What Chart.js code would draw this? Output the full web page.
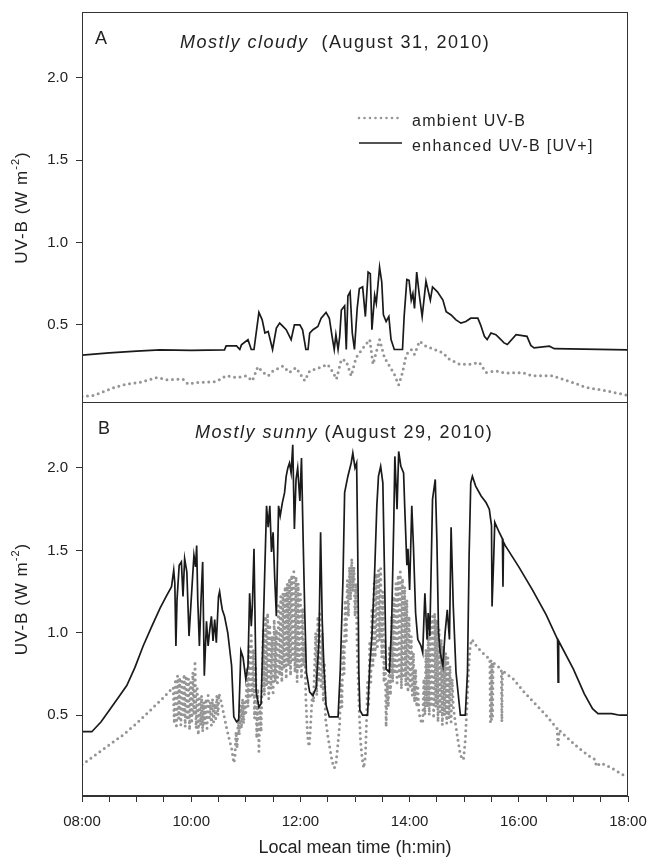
<!DOCTYPE html>
<html>
<head>
<meta charset="utf-8">
<script src="https://cdn.jsdelivr.net/npm/chart.js@4.4.1/dist/chart.umd.min.js"></script>
<style>
  html, body { margin: 0; padding: 0; background: #fff; }
  #wrap { position: relative; width: 654px; height: 862px; overflow: hidden; }
  #chart-a { position: absolute; left: 0; top: 0; }
  #chart-b { position: absolute; left: 0; top: 402px; }
</style>
</head>
<body>
<div id="wrap">
  <canvas id="chart-a" width="654" height="404"></canvas>
  <canvas id="chart-b" width="654" height="460"></canvas>
</div>
<script>
// labels
const seriesLabels = ['ambient UV-B', 'enhanced UV-B [UV+]'];
const xTickHours = [8, 10, 12, 14, 16, 18];
const xTickLabels = ['08:00', '10:00', '12:00', '14:00', '16:00', '18:00'];
const yTickValues = [0.5, 1.0, 1.5, 2.0];
const xTitle = 'Local mean time (h:min)';

// panel A - mostly cloudy, [hour, W m-2]
const enhancedA = [
  [8.00,0.316],[8.50,0.33],[9.00,0.34],[9.43,0.348],[10.00,0.345],[10.61,0.348],[10.64,0.372],[10.83,0.372],
  [10.89,0.35],[10.92,0.378],[11.04,0.41],[11.10,0.35],[11.15,0.35],[11.24,0.575],[11.30,0.53],[11.35,0.45],
  [11.41,0.46],[11.49,0.35],[11.56,0.48],[11.62,0.51],[11.68,0.49],[11.74,0.47],[11.83,0.41],[11.89,0.50],
  [11.99,0.50],[12.04,0.47],[12.10,0.35],[12.14,0.35],[12.17,0.45],[12.23,0.47],[12.32,0.49],[12.38,0.54],
  [12.47,0.575],[12.53,0.54],[12.58,0.43],[12.62,0.35],[12.65,0.44],[12.69,0.35],[12.72,0.43],[12.75,0.59],
  [12.81,0.615],[12.84,0.35],[12.87,0.675],[12.91,0.70],[12.95,0.45],[12.99,0.35],[13.04,0.60],[13.08,0.72],
  [13.14,0.73],[13.19,0.55],[13.24,0.82],[13.28,0.81],[13.31,0.47],[13.36,0.68],[13.39,0.63],[13.45,0.85],
  [13.49,0.76],[13.52,0.56],[13.57,0.52],[13.62,0.55],[13.66,0.41],[13.72,0.35],[13.87,0.35],[13.90,0.55],
  [13.95,0.775],[13.99,0.77],[14.03,0.65],[14.06,0.69],[14.09,0.60],[14.13,0.82],[14.18,0.675],[14.23,0.55],
  [14.30,0.765],[14.38,0.65],[14.42,0.73],[14.51,0.70],[14.61,0.65],[14.67,0.58],[14.76,0.56],[14.85,0.53],
  [14.94,0.51],[15.03,0.52],[15.12,0.54],[15.25,0.54],[15.30,0.50],[15.37,0.43],[15.42,0.41],[15.49,0.45],
  [15.58,0.44],[15.64,0.42],[15.73,0.39],[15.79,0.38],[15.95,0.44],[16.15,0.43],[16.22,0.375],[16.28,0.36],
  [16.56,0.37],[16.65,0.355],[18.00,0.348]
];
const ambientA = [
  [8.00,0.065],[8.20,0.07],[8.39,0.093],[8.60,0.12],[8.82,0.14],[9.06,0.15],[9.37,0.18],[9.55,0.166],
  [9.85,0.17],[9.94,0.14],[10.13,0.15],[10.46,0.155],[10.64,0.19],[10.83,0.18],[11.01,0.19],[11.12,0.16],
  [11.22,0.245],[11.32,0.21],[11.41,0.19],[11.50,0.22],[11.68,0.25],[11.80,0.21],[11.92,0.24],[12.08,0.16],
  [12.17,0.22],[12.35,0.24],[12.50,0.26],[12.60,0.21],[12.66,0.17],[12.75,0.29],[12.84,0.28],[12.93,0.19],
  [13.02,0.30],[13.15,0.36],[13.27,0.41],[13.33,0.26],[13.45,0.41],[13.54,0.30],[13.63,0.25],[13.72,0.20],
  [13.80,0.135],[13.87,0.21],[13.94,0.32],[14.03,0.35],[14.09,0.32],[14.18,0.40],[14.30,0.37],[14.45,0.35],
  [14.61,0.33],[14.73,0.29],[14.92,0.26],[15.10,0.26],[15.28,0.27],[15.40,0.21],[15.58,0.22],[15.76,0.207],
  [16.07,0.21],[16.25,0.19],[16.62,0.19],[16.98,0.15],[17.23,0.12],[17.59,0.10],[17.96,0.074],[18.00,0.07]
];

// panel B - mostly sunny
const enhancedB = [
  [8.00,0.40],[8.18,0.40],[8.35,0.46],[8.51,0.535],[8.65,0.60],[8.82,0.68],[8.97,0.79],[9.12,0.92],[9.28,1.04],
  [9.43,1.15],[9.54,1.22],[9.64,1.28],[9.68,1.38],[9.70,1.30],
  [9.72,0.92],[9.74,1.20],[9.78,1.41],[9.82,1.43],[9.85,1.22],[9.88,1.45],[9.92,1.37],[9.96,0.98],[10.00,1.20],
  [10.05,1.47],[10.08,1.40],[10.10,1.53],[10.12,1.20],[10.15,0.92],[10.18,1.20],[10.21,1.43],[10.24,0.74],
  [10.28,1.07],[10.31,0.92],[10.34,1.02],[10.37,1.10],[10.40,0.95],[10.43,1.08],[10.46,0.94],[10.50,1.22],
  [10.52,1.25],[10.55,1.18],[10.57,1.14],[10.61,1.10],[10.67,1.00],[10.74,0.80],[10.78,0.49],[10.83,0.46],
  [10.87,0.47],[10.91,0.89],[10.95,0.85],[11.00,0.72],[11.04,0.80],[11.07,1.24],[11.10,1.04],[11.12,1.16],
  [11.15,1.51],[11.19,0.64],[11.24,0.55],[11.28,0.57],[11.32,1.04],[11.38,1.77],[11.41,1.64],[11.44,1.77],
  [11.47,1.49],[11.50,1.61],[11.53,1.33],[11.56,1.10],[11.60,1.77],[11.63,1.71],[11.67,1.79],[11.71,1.85],
  [11.74,1.95],[11.77,2.00],[11.80,2.03],[11.83,1.97],[11.86,2.14],[11.89,1.63],[11.92,1.93],[11.95,2.00],
  [11.99,1.80],[12.02,2.06],[12.05,1.57],[12.08,1.12],[12.11,0.76],[12.17,0.64],[12.23,0.62],[12.29,0.67],
  [12.34,0.95],[12.37,1.61],[12.40,1.07],[12.43,0.80],[12.47,0.56],[12.53,0.49],[12.69,0.49],[12.73,0.77],
  [12.78,1.33],[12.81,1.85],[12.87,1.95],[12.93,2.03],[12.96,2.09],[13.00,2.00],[13.03,2.03],[13.05,1.50],
  [13.07,0.76],[13.09,0.53],[13.14,0.50],[13.23,0.50],[13.27,0.80],[13.31,0.98],[13.36,1.37],[13.40,1.77],
  [13.43,1.95],[13.47,2.01],[13.51,1.91],[13.54,1.37],[13.57,0.78],[13.63,0.76],[13.67,1.04],[13.71,1.67],
  [13.73,2.07],[13.77,1.75],[13.80,2.10],[13.84,2.01],[13.89,1.97],[13.91,1.77],[13.95,1.41],[13.97,1.51],
  [14.00,1.26],[14.04,1.77],[14.07,1.53],[14.11,1.12],[14.15,0.96],[14.21,0.92],[14.24,0.88],[14.28,1.24],
  [14.32,0.96],[14.34,1.12],[14.37,0.98],[14.42,1.81],[14.47,1.93],[14.50,1.56],[14.53,1.00],[14.56,0.88],
  [14.61,0.80],[14.65,1.00],[14.69,1.14],[14.73,0.96],[14.76,1.64],[14.80,1.16],[14.85,0.76],[14.93,0.50],
  [15.02,0.50],[15.06,0.76],[15.09,1.47],[15.12,1.91],[15.15,1.95],[15.21,1.89],[15.31,1.83],[15.40,1.79],
  [15.46,1.75],[15.50,1.65],[15.51,1.16],[15.54,1.45],[15.56,1.67],[15.64,1.61],[15.70,1.57],[15.71,1.28],
  [15.72,1.55],[15.75,1.53],[16.00,1.40],[16.25,1.26],[16.50,1.11],[16.71,0.96],[16.72,0.70],[16.73,0.95],
  [17.00,0.78],[17.20,0.63],[17.35,0.54],[17.45,0.51],[17.70,0.51],[17.85,0.50],[18.00,0.50]
];
const ambientB = [
  [8.00,0.20],[8.25,0.26],[8.50,0.32],[8.75,0.38],[9.00,0.45],[9.25,0.53],[9.50,0.61],[9.67,0.67],
  [9.69,0.45],[9.71,0.72],[9.73,0.42],[9.75,0.74],[9.77,0.48],[9.79,0.73],[9.81,0.44],[9.83,0.72],[9.85,0.50],
  [9.87,0.75],[9.89,0.43],[9.91,0.74],[9.93,0.47],[9.95,0.72],[9.97,0.41],[9.99,0.70],[10.01,0.45],[10.03,0.76],
  [10.05,0.50],[10.07,0.83],[10.09,0.42],[10.11,0.66],[10.13,0.38],[10.15,0.60],[10.17,0.44],[10.19,0.62],
  [10.21,0.40],[10.23,0.58],[10.25,0.45],[10.27,0.60],[10.29,0.42],[10.31,0.62],[10.33,0.47],[10.35,0.58],
  [10.37,0.44],[10.39,0.60],[10.41,0.46],[10.43,0.57],[10.45,0.48],[10.47,0.62],[10.49,0.50],[10.51,0.63],
  [10.55,0.58],[10.60,0.50],[10.65,0.42],[10.70,0.35],[10.74,0.30],[10.78,0.21],[10.80,0.24],[10.82,0.40],
  [10.84,0.30],[10.86,0.48],[10.88,0.38],[10.90,0.56],[10.92,0.42],[10.94,0.60],[10.96,0.45],[10.98,0.58],
  [11.00,0.50],[11.02,0.78],[11.04,0.55],[11.06,0.92],[11.08,0.60],[11.10,1.00],[11.12,0.62],[11.14,0.90],
  [11.16,0.48],[11.18,0.80],[11.20,0.36],[11.22,0.66],[11.24,0.28],[11.26,0.55],[11.28,0.40],
  [11.30,0.72],[11.32,1.02],[11.34,0.62],[11.36,1.10],[11.38,0.68],[11.40,1.12],[11.42,0.60],[11.44,1.05],
  [11.46,0.66],[11.48,0.98],[11.50,0.62],[11.52,1.08],[11.54,0.70],[11.56,1.02],[11.58,0.68],[11.60,1.18],
  [11.62,0.74],[11.64,1.22],[11.66,0.70],[11.68,1.24],[11.70,0.78],[11.72,1.28],[11.74,0.72],[11.76,1.30],
  [11.78,0.80],[11.80,1.33],[11.82,0.74],[11.84,1.35],[11.86,0.82],[11.88,1.37],[11.90,0.76],[11.92,1.34],
  [11.94,0.70],[11.96,1.30],[11.98,0.78],[12.00,1.25],[12.02,0.72],[12.04,1.15],
  [12.06,0.80],[12.08,0.95],[12.10,0.60],[12.12,0.45],[12.14,0.34],[12.16,0.31],[12.18,0.40],[12.20,0.52],
  [12.22,0.64],[12.24,0.58],[12.26,0.80],[12.28,1.00],[12.30,0.62],[12.32,1.10],[12.34,0.70],[12.36,1.13],
  [12.38,0.66],[12.40,1.00],[12.42,0.58],[12.44,0.82],[12.46,0.48],[12.50,0.38],[12.54,0.30],[12.58,0.22],
  [12.62,0.18],[12.65,0.20],[12.68,0.30],
  [12.72,0.45],[12.74,0.70],[12.76,0.55],[12.78,0.95],[12.80,0.75],[12.82,1.20],[12.84,0.95],[12.86,1.32],
  [12.88,1.10],[12.90,1.40],[12.92,1.20],[12.94,1.45],[12.96,1.25],[12.98,1.40],[13.00,1.10],[13.02,1.30],
  [13.04,0.90],[13.06,0.70],[13.08,0.50],[13.10,0.35],[13.13,0.24],[13.16,0.18],[13.19,0.25],
  [13.21,0.45],[13.23,0.70],[13.25,0.55],[13.27,0.95],[13.29,0.70],[13.31,1.15],[13.33,0.80],[13.35,1.30],
  [13.37,0.85],[13.39,1.36],[13.41,0.90],[13.43,1.38],[13.45,0.95],[13.47,1.39],[13.49,0.85],[13.51,1.25],
  [13.53,0.70],[13.55,0.95],[13.57,0.43],
  [13.59,0.70],[13.61,0.55],[13.63,0.92],[13.65,0.62],[13.67,1.10],[13.69,0.70],[13.71,1.22],[13.73,0.75],
  [13.75,1.30],[13.77,0.68],[13.79,1.35],[13.81,0.72],[13.83,1.37],[13.85,0.66],[13.87,1.33],[13.89,0.74],
  [13.91,1.28],[13.93,0.68],[13.95,1.20],[13.97,0.64],[13.99,1.10],[14.01,0.66],[14.03,0.98],[14.05,0.62],
  [14.07,0.88],[14.09,0.58],[14.11,0.78],[14.13,0.55],[14.15,0.68],[14.17,0.52],[14.20,0.47],[14.24,0.45],
  [14.26,0.72],[14.28,0.50],[14.30,0.90],[14.32,0.55],[14.34,1.00],[14.36,0.50],[14.38,1.08],[14.40,0.55],
  [14.42,1.10],[14.44,0.48],[14.46,1.12],[14.48,0.55],[14.50,1.08],[14.52,0.46],[14.54,1.02],[14.56,0.52],
  [14.58,0.96],[14.60,0.44],[14.62,0.92],[14.64,0.50],[14.66,0.88],[14.68,0.45],[14.70,0.85],[14.72,0.48],
  [14.74,0.80],[14.76,0.46],[14.78,0.72],[14.80,0.55],
  [14.84,0.45],[14.88,0.36],[14.92,0.28],[14.96,0.23],[14.99,0.24],[15.02,0.35],[15.05,0.55],[15.08,0.78],
  [15.11,0.92],[15.14,0.96],[15.20,0.93],[15.30,0.89],[15.40,0.86],[15.47,0.84],[15.48,0.46],[15.49,0.83],
  [15.50,0.47],[15.51,0.82],[15.52,0.48],[15.53,0.82],[15.60,0.80],[15.68,0.78],[15.69,0.46],[15.70,0.77],
  [15.90,0.72],[16.10,0.64],[16.30,0.57],[16.50,0.50],[16.70,0.42],[16.72,0.32],[16.74,0.41],[16.90,0.36],
  [17.10,0.30],[17.30,0.25],[17.40,0.23],[17.42,0.19],[17.50,0.21],[17.70,0.18],[17.90,0.14],[18.00,0.13]
];

const textColor = '#222';
const axisColor = '#333';
const enhancedColor = '#1a1a1a';
const ambientColor = '#959595';
const fontFamily = '"Liberation Sans", Arial, sans-serif';

Chart.defaults.font.family = fontFamily;
Chart.defaults.color = textColor;

const toPoints = (pairs) => pairs.map(p => ({ x: p[0], y: p[1] }));

function drawYTitle(ctx, cx, cy) {
  ctx.save();
  ctx.translate(cx, cy);
  ctx.rotate(-Math.PI / 2);
  ctx.fillStyle = textColor;
  ctx.textBaseline = 'middle';
  ctx.letterSpacing = '1px';
  const parts = [
    { t: 'UV-B (W m', f: '17px ' + fontFamily, dy: 0 },
    { t: '-2', f: '11px ' + fontFamily, dy: -6 },
    { t: ')', f: '17px ' + fontFamily, dy: 0 }
  ];
  let total = 0;
  parts.forEach(p => { ctx.font = p.f; p.w = ctx.measureText(p.t).width; total += p.w; });
  let x = -total / 2;
  parts.forEach(p => { ctx.font = p.f; ctx.fillText(p.t, x, p.dy); x += p.w; });
  ctx.restore();
}

const panelDecor = {
  id: 'panelDecor',
  afterDraw(chart, args, opts) {
    const { ctx, chartArea: a } = chart;
    ctx.save();
    ctx.strokeStyle = axisColor;
    ctx.lineWidth = 1;
    ctx.strokeRect(Math.round(a.left) + 0.5, Math.round(a.top) + 0.5,
      Math.round(a.right - a.left) - 1, Math.round(a.bottom - a.top) - 1);

    ctx.fillStyle = textColor;
    ctx.textBaseline = 'alphabetic';
    ctx.letterSpacing = '1px';
    ctx.font = '18px ' + fontFamily;
    ctx.fillText(opts.letter, opts.letterX, opts.letterY);

    ctx.letterSpacing = '1.5px';
    ctx.font = 'italic 18px ' + fontFamily;
    ctx.fillText(opts.italic, opts.titleX, opts.titleY);
    const w = ctx.measureText(opts.italic).width;
    ctx.font = '18px ' + fontFamily;
    ctx.fillText(opts.rest, opts.titleX + w, opts.titleY);

    if (opts.legend) {
      const rows = [chart.data.datasets[1], chart.data.datasets[0]];
      rows.forEach((ds, i) => {
        const y = 118 + i * 25;
        ctx.beginPath();
        ctx.strokeStyle = ds.borderColor;
        ctx.lineWidth = i === 0 ? 2.6 : 1.5;
        ctx.lineCap = i === 0 ? 'round' : 'butt';
        ctx.setLineDash(i === 0 ? [0, 5.5] : []);
        ctx.moveTo(359, y);
        ctx.lineTo(402, y);
        ctx.stroke();
        ctx.setLineDash([]);
        ctx.font = '16px ' + fontFamily;
        ctx.letterSpacing = '1.3px';
        ctx.fillStyle = textColor;
        ctx.fillText(ds.label, 412, y + 8);
      });
    }
    ctx.restore();
    drawYTitle(ctx, 22, (a.top + a.bottom) / 2);
  }
};

function buildPanel(canvasId, cfg) {
  const xScale = {
    type: 'linear', min: 8, max: 18, display: cfg.showX,
    afterBuildTicks: (s) => {
      const ticks = [];
      for (let h = 8; h <= 18; h += 0.5) ticks.push({ value: h });
      s.ticks = ticks;
    },
    grid: { drawOnChartArea: false, tickLength: 6, color: axisColor },
    border: { color: axisColor },
    ticks: {
      autoSkip: false, maxRotation: 0, padding: 11, color: textColor, font: { size: 15 },
      callback: (v) => {
        const i = xTickHours.indexOf(v);
        return i >= 0 ? xTickLabels[i] : '';
      }
    },
    title: { display: true, text: xTitle, color: textColor, font: { size: 18 }, padding: { top: 0, bottom: 3 } }
  };
  if (cfg.showX) {
    xScale.afterFit = (s) => { s.height = 66; s.paddingLeft = 0; s.paddingRight = 0; };
  }

  return new Chart(document.getElementById(canvasId), {
    type: 'line',
    data: {
      datasets: [
        {
          label: seriesLabels[1], data: toPoints(cfg.enhanced), borderColor: enhancedColor,
          borderWidth: 1.7, pointRadius: 0, tension: 0, order: 0
        },
        {
          label: seriesLabels[0], data: toPoints(cfg.ambient), borderColor: ambientColor,
          borderWidth: 3, borderDash: [0, 5.5], borderCapStyle: 'round', borderJoinStyle: 'round',
          pointRadius: 0, tension: 0, order: 1
        }
      ]
    },
    options: {
      responsive: false,
      animation: false,
      events: [],
      layout: { padding: cfg.padding },
      plugins: { legend: { display: false }, tooltip: { enabled: false }, panelDecor: cfg.decor },
      scales: {
        x: xScale,
        y: {
          type: 'linear', min: cfg.yMin, max: 2.4,
          afterFit: (s) => { s.width = 82; s.paddingTop = 0; s.paddingBottom = 0; },
          afterBuildTicks: (s) => { s.ticks = yTickValues.map(v => ({ value: v })); },
          grid: { drawOnChartArea: false, tickLength: 6, color: axisColor },
          border: { color: axisColor },
          ticks: { padding: 8, color: textColor, font: { size: 15 }, callback: (v) => v.toFixed(1) }
        }
      }
    },
    plugins: [panelDecor]
  });
}

buildPanel('chart-a', {
  enhanced: enhancedA, ambient: ambientA, yMin: 0.025, showX: false,
  padding: { top: 12, right: 26, bottom: 1, left: 0 },
  decor: { letter: 'A', letterX: 95, letterY: 44, italic: 'Mostly cloudy', rest: '  (August 31, 2010)',
           titleX: 180, titleY: 48, legend: true }
});

buildPanel('chart-b', {
  enhanced: enhancedB, ambient: ambientB, yMin: 0.01, showX: true,
  padding: { top: 0, right: 26, bottom: 0, left: 0 },
  decor: { letter: 'B', letterX: 98, letterY: 32, italic: 'Mostly sunny', rest: ' (August 29, 2010)',
           titleX: 195, titleY: 36, legend: false }
});
</script>
</body>
</html>
